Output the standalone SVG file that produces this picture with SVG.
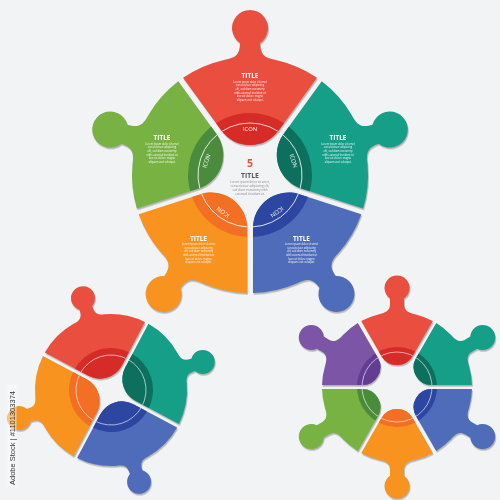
<svg xmlns="http://www.w3.org/2000/svg" xmlns:xlink="http://www.w3.org/1999/xlink" width="500" height="500" viewBox="0 0 500 500">
<style>
.t{font-family:"Open Sans","Liberation Sans",sans-serif;text-anchor:middle}
.ttl{font-weight:700;font-size:6.5px;fill:#fff}
.lor{font-size:2.6px;fill:#fff;opacity:.92}
.icon{font-size:5.8px;fill:#fff}
.ring{fill:none;stroke:#fff;stroke-width:.9;opacity:.85}
.ring2{fill:none;stroke:#fff;stroke-width:.7;opacity:.8}
.sh{fill:#6f6f6f;opacity:.5}
</style>
<defs>
<path id="p5" d="M -66.93,-97.19 A 118 118 0 0 1 -26,-115.1 C -14,-117 -10,-121 -10,-132.03 A 18 18 0 1 1 10,-132.03 C 10,-121 14,-117 26,-115.1 A 118 118 0 0 1 66.93,-97.19 L 28.72,-44.63 A 35.5 35.5 0 0 1 -28.72,-44.63 Z"/>
<path id="p4" d="M -52.31,-55.13 A 76 76 0 0 1 -16,-74.30 C -9,-75.6 -6.5,-78 -6.5,-85.91 A 12 12 0 1 1 6.5,-85.91 C 6.5,-78 9,-75.6 16,-74.30 A 76 76 0 0 1 52.31,-55.13 L 17.34,-20.16 A 24.52 24.52 0 0 1 -17.34,-20.16 Z"/>
<path id="p6" d="M -35.75,-65.93 A 75 75 0 0 1 -18,-72.81 C -9,-74.5 -7,-78 -7,-83 L -7,-88.64 A 12.5 12.5 0 1 1 7,-88.64 L 7,-83 C 7,-78 9,-74.5 18,-72.81 A 75 75 0 0 1 35.75,-65.93 L 15.59,-31.0 A 18 18 0 0 1 -15.59,-31.0 Z"/>
<clipPath id="c5"><use xlink:href="#p5"/></clipPath>
<clipPath id="c4"><use xlink:href="#p4"/></clipPath>
<clipPath id="c6"><use xlink:href="#p6"/></clipPath>
<filter id="blur" x="-10%" y="-10%" width="120%" height="120%"><feGaussianBlur stdDeviation="0.7"/></filter>
</defs>
<rect width="500" height="500" fill="#f2f3f5"/>

<!-- shadows -->
<g class="sh" transform="translate(0.8,1.6)" filter="url(#blur)">
<use xlink:href="#p5" transform="translate(250,175) rotate(0)"/>
<use xlink:href="#p5" transform="translate(250,175) rotate(72)"/>
<use xlink:href="#p5" transform="translate(250,175) rotate(144)"/>
<use xlink:href="#p5" transform="translate(250,175) rotate(216)"/>
<use xlink:href="#p5" transform="translate(250,175) rotate(288)"/>
<use xlink:href="#p4" transform="translate(111,390) rotate(-17)"/>
<use xlink:href="#p4" transform="translate(111,390) rotate(73)"/>
<use xlink:href="#p4" transform="translate(111,390) rotate(163)"/>
<use xlink:href="#p4" transform="translate(111,390) rotate(253)"/>
<use xlink:href="#p6" transform="translate(397,387) rotate(0)"/>
<use xlink:href="#p6" transform="translate(397,387) rotate(60)"/>
<use xlink:href="#p6" transform="translate(397,387) rotate(120)"/>
<use xlink:href="#p6" transform="translate(397,387) rotate(180)"/>
<use xlink:href="#p6" transform="translate(397,387) rotate(240)"/>
<use xlink:href="#p6" transform="translate(397,387) rotate(300)"/>
</g>

<!-- big wheel -->
<g id="big-red" transform="translate(250,175) rotate(0)">
<use xlink:href="#p5" fill="#e94e3f"/>
<g clip-path="url(#c5)"><circle r="62" fill="#d72b28"/><circle r="52" class="ring"/></g>
<text class="t icon" y="-43.8">ICON</text>
</g>
<g id="big-teal" transform="translate(250,175) rotate(72)">
<use xlink:href="#p5" fill="#159e88"/>
<g clip-path="url(#c5)"><circle r="62" fill="#0d705e"/><circle r="52" class="ring"/></g>
<text class="t icon" y="-43.8">ICON</text>
</g>
<g id="big-blue" transform="translate(250,175) rotate(144)">
<use xlink:href="#p5" fill="#4f6cba"/>
<g clip-path="url(#c5)"><circle r="62" fill="#2c46a2"/><circle r="52" class="ring"/></g>
<text class="t icon" y="-43.8">ICON</text>
</g>
<g id="big-orange" transform="translate(250,175) rotate(216)">
<use xlink:href="#p5" fill="#f7931e"/>
<g clip-path="url(#c5)"><circle r="62" fill="#f26f23"/><circle r="52" class="ring"/></g>
<text class="t icon" y="-43.8">ICON</text>
</g>
<g id="big-green" transform="translate(250,175) rotate(288)">
<use xlink:href="#p5" fill="#77b243"/>
<g clip-path="url(#c5)"><circle r="62" fill="#4a8c3b"/><circle r="52" class="ring"/></g>
<text class="t icon" y="-43.8">ICON</text>
</g>

<!-- big wheel texts -->
<g id="txt-red">
<text class="t ttl" x="250" y="78.4">TITLE</text>
<text class="t lor" x="250" y="82.6"><tspan x="250">Lorem ipsum dolor sit amet</tspan><tspan x="250" dy="3.7">consectetuer adipiscing</tspan><tspan x="250" dy="3.7">elit, sed diam nonummy</tspan><tspan x="250" dy="3.7">nibh euismod tincidunt ut</tspan><tspan x="250" dy="3.7">laoreet dolore magna</tspan><tspan x="250" dy="3.7">aliquam erat volutpat.</tspan></text>
</g>
<g id="txt-green">
<text class="t ttl" x="162" y="140.4">TITLE</text>
<text class="t lor" x="162" y="144.6"><tspan x="162">Lorem ipsum dolor sit amet</tspan><tspan x="162" dy="3.7">consectetuer adipiscing</tspan><tspan x="162" dy="3.7">elit, sed diam nonummy</tspan><tspan x="162" dy="3.7">nibh euismod tincidunt ut</tspan><tspan x="162" dy="3.7">laoreet dolore magna</tspan><tspan x="162" dy="3.7">aliquam erat volutpat.</tspan></text>
</g>
<g id="txt-teal">
<text class="t ttl" x="338" y="140.4">TITLE</text>
<text class="t lor" x="338" y="144.6"><tspan x="338">Lorem ipsum dolor sit amet</tspan><tspan x="338" dy="3.7">consectetuer adipiscing</tspan><tspan x="338" dy="3.7">elit, sed diam nonummy</tspan><tspan x="338" dy="3.7">nibh euismod tincidunt ut</tspan><tspan x="338" dy="3.7">laoreet dolore magna</tspan><tspan x="338" dy="3.7">aliquam erat volutpat.</tspan></text>
</g>
<g id="txt-orange">
<text class="t ttl" x="198.5" y="240.6">TITLE</text>
<text class="t lor" x="198.5" y="244.8"><tspan x="198.5">Lorem ipsum dolor sit amet</tspan><tspan x="198.5" dy="3.7">consectetuer adipiscing</tspan><tspan x="198.5" dy="3.7">elit, sed diam nonummy</tspan><tspan x="198.5" dy="3.7">nibh euismod tincidunt ut</tspan><tspan x="198.5" dy="3.7">laoreet dolore magna</tspan><tspan x="198.5" dy="3.7">aliquam erat volutpat.</tspan></text>
</g>
<g id="txt-blue">
<text class="t ttl" x="301.5" y="240.6">TITLE</text>
<text class="t lor" x="301.5" y="244.8"><tspan x="301.5">Lorem ipsum dolor sit amet</tspan><tspan x="301.5" dy="3.7">consectetuer adipiscing</tspan><tspan x="301.5" dy="3.7">elit, sed diam nonummy</tspan><tspan x="301.5" dy="3.7">nibh euismod tincidunt ut</tspan><tspan x="301.5" dy="3.7">laoreet dolore magna</tspan><tspan x="301.5" dy="3.7">aliquam erat volutpat.</tspan></text>
</g>
<g id="center">
<text class="t" x="250" y="167.4" font-size="10.5" font-weight="700" fill="#e94e3f">5</text>
<text class="t" x="250" y="177.6" font-size="6.8" font-weight="700" fill="#555">TITLE</text>
<text class="t" x="250" y="182.8" font-size="3" fill="#8a8a8a"><tspan x="250">Lorem ipsum dolor sit amet,</tspan><tspan x="250" dy="4">consectetuer adipiscing elit,</tspan><tspan x="250" dy="4">sed diam nonummy nibh</tspan><tspan x="250" dy="4">euismod tincidunt ut.</tspan></text>
</g>

<!-- 4-piece wheel -->
<g id="w4-red" transform="translate(111,390) rotate(-17)">
<use xlink:href="#p4" fill="#e94e3f"/>
<g clip-path="url(#c4)"><circle r="42" fill="#d72b28"/><circle r="35" class="ring2"/></g>
</g>
<g id="w4-teal" transform="translate(111,390) rotate(73)">
<use xlink:href="#p4" fill="#159e88"/>
<g clip-path="url(#c4)"><circle r="42" fill="#0d705e"/><circle r="35" class="ring2"/></g>
</g>
<g id="w4-blue" transform="translate(111,390) rotate(163)">
<use xlink:href="#p4" fill="#4f6cba"/>
<g clip-path="url(#c4)"><circle r="42" fill="#2c46a2"/><circle r="35" class="ring2"/></g>
</g>
<g id="w4-orange" transform="translate(111,390) rotate(253)">
<use xlink:href="#p4" fill="#f7931e"/>
<g clip-path="url(#c4)"><circle r="42" fill="#f26f23"/><circle r="35" class="ring2"/></g>
</g>

<!-- 6-piece wheel -->
<g id="w6-red" transform="translate(397,387) rotate(0)">
<use xlink:href="#p6" fill="#e94e3f"/>
<g clip-path="url(#c6)"><circle r="40" fill="#d72b28"/><circle r="35" class="ring2"/></g>
</g>
<g id="w6-teal" transform="translate(397,387) rotate(60)">
<use xlink:href="#p6" fill="#159e88"/>
<g clip-path="url(#c6)"><circle r="40" fill="#0d705e"/><circle r="35" class="ring2"/></g>
</g>
<g id="w6-blue" transform="translate(397,387) rotate(120)">
<use xlink:href="#p6" fill="#4f6cba"/>
<g clip-path="url(#c6)"><circle r="40" fill="#2c46a2"/><circle r="35" class="ring2"/></g>
</g>
<g id="w6-orange" transform="translate(397,387) rotate(180)">
<use xlink:href="#p6" fill="#f7931e"/>
<g clip-path="url(#c6)"><circle r="40" fill="#f26f23"/><circle r="35" class="ring2"/></g>
</g>
<g id="w6-green" transform="translate(397,387) rotate(240)">
<use xlink:href="#p6" fill="#77b243"/>
<g clip-path="url(#c6)"><circle r="40" fill="#4a8c3b"/><circle r="35" class="ring2"/></g>
</g>
<g id="w6-purple" transform="translate(397,387) rotate(300)">
<use xlink:href="#p6" fill="#7d55a6"/>
<g clip-path="url(#c6)"><circle r="40" fill="#653c94"/><circle r="35" class="ring2"/></g>
</g>

<!-- side label -->
<g id="side-label">
<rect x="7.5" y="385" width="9" height="101" fill="#fff" opacity="0.45"/>
<text transform="translate(15,485) rotate(-90)" font-family="'Liberation Sans',Arial,sans-serif" font-size="7.5" fill="#333">Adobe Stock | #1101303374</text>
</g>
</svg>
